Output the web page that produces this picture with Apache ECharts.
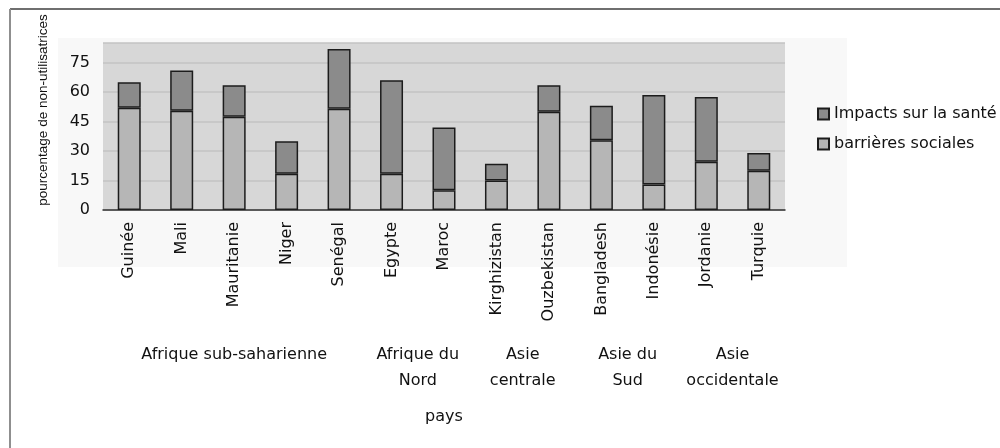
<!DOCTYPE html>
<html>
<head>
<meta charset="utf-8">
<script src="https://cdn.jsdelivr.net/npm/echarts@6/dist/echarts.min.js"></script>
<style>
  html, body { margin: 0; padding: 0; background: #ffffff; }
  #chart { width: 1000px; height: 448px; }
</style>
</head>
<body>
<div id="chart"></div>
<script>
// Countries along the x axis
const countries = ['Guinée', 'Mali', 'Mauritanie', 'Niger', 'Senégal', 'Egypte', 'Maroc',
  'Kirghizistan', 'Ouzbekistan', 'Bangladesh', 'Indonésie', 'Jordanie', 'Turquie'];

// Share of non-users (%) citing each reason
const barrieresSociales = [52, 50.5, 47.5, 18.5, 51.5, 18.5, 10, 15, 50, 35.5, 13, 24.5, 20];
const impactsSante      = [13, 20.5, 16, 16.5, 30.5, 47.5, 32, 8.5, 13.5, 17.5, 45.5, 33, 9];

// Regions, each spanning a run of countries (first and last index)
const regionNames = ['Afrique sub-saharienne', 'Afrique du\nNord', 'Asie\ncentrale', 'Asie du\nSud', 'Asie\noccidentale'];
const regionFirst = [0, 5, 7, 9, 11];
const regionLast  = [4, 6, 8, 10, 12];

const yTicks = [0, 15, 30, 45, 60, 75];

const FONT = 'DejaVu Sans';
const chart = echarts.init(document.getElementById('chart'), null, { renderer: 'canvas' });

const barBorder = { borderColor: '#1c1c1c', borderWidth: 1.5 };

chart.setOption({
  animation: false,
  backgroundColor: '#ffffff',
  textStyle: { fontFamily: FONT },
  grid: { left: 103, right: 215, top: 43, bottom: 238, show: true, backgroundColor: '#d7d7d7', borderWidth: 0 },
  legend: {
    orient: 'vertical',
    left: 812,
    top: 100,
    itemWidth: 11,
    itemHeight: 11,
    itemGap: 12,
    icon: 'rect',
    data: ['Impacts sur la santé', 'barrières sociales'],
    textStyle: { fontFamily: FONT, fontSize: 16, color: '#111', lineHeight: 18 }
  },
  xAxis: {
    type: 'category',
    data: countries,
    axisLine: { show: true, lineStyle: { color: '#333', width: 1.5 } },
    axisTick: { show: false },
    axisLabel: { rotate: 90, margin: 12, interval: 0, fontFamily: FONT, fontSize: 16, color: '#111' }
  },
  yAxis: {
    type: 'value',
    min: 0,
    max: 85,
    interval: 15,
    axisLine: { show: false },
    axisTick: { show: false },
    axisLabel: {
      margin: 13, fontFamily: FONT, fontSize: 16, color: '#111', showMaxLabel: false,
      formatter: v => (yTicks.indexOf(v) >= 0 ? String(v) : '')
    },
    splitLine: { show: true, lineStyle: { color: '#c3c3c3', width: 1.5 } }
  },
  series: [
    {
      name: 'barrières sociales',
      type: 'bar',
      stack: 'total',
      barWidth: 23,
      data: barrieresSociales,
      itemStyle: Object.assign({ color: '#b6b6b6' }, barBorder)
    },
    {
      name: 'Impacts sur la santé',
      type: 'bar',
      stack: 'total',
      barWidth: 23,
      data: impactsSante,
      itemStyle: Object.assign({ color: '#8b8b8b' }, barBorder)
    }
  ]
});

// Region captions under the country names, centred on their countries
const graphics = [
  // faint panel behind the plot and its labels
  { type: 'rect', z: -10, shape: { x: 58, y: 38, width: 789, height: 229 }, style: { fill: '#f8f8f8' } },
  // frame edges
  { type: 'line', shape: { x1: 10, y1: 9, x2: 1000, y2: 9 }, style: { stroke: '#6f6f6f', lineWidth: 2 } },
  { type: 'line', shape: { x1: 10, y1: 9, x2: 10, y2: 448 }, style: { stroke: '#8f8f8f', lineWidth: 2 } },
  // y axis title
  {
    type: 'text', x: 43, y: 110, rotation: Math.PI / 2,
    style: { text: 'pourcentage de non-utilisatrices', font: '13.5px "Liberation Sans"', fill: '#111', align: 'center', verticalAlign: 'middle' }
  }
];
regionNames.forEach((name, i) => {
  const x0 = chart.convertToPixel({ xAxisIndex: 0 }, regionFirst[i]);
  const x1 = chart.convertToPixel({ xAxisIndex: 0 }, regionLast[i]);
  graphics.push({
    type: 'text', x: (x0 + x1) / 2, y: 342,
    style: { text: name, font: '16px "' + FONT + '"', fill: '#111', align: 'center', verticalAlign: 'top', lineHeight: 26 }
  });
});
const xMid = (chart.convertToPixel({ xAxisIndex: 0 }, 0) + chart.convertToPixel({ xAxisIndex: 0 }, countries.length - 1)) / 2;
graphics.push({
  type: 'text', x: xMid, y: 417,
  style: { text: 'pays', font: '16px "' + FONT + '"', fill: '#111', align: 'center', verticalAlign: 'middle' }
});
chart.setOption({ graphic: graphics });
</script>
</body>
</html>
